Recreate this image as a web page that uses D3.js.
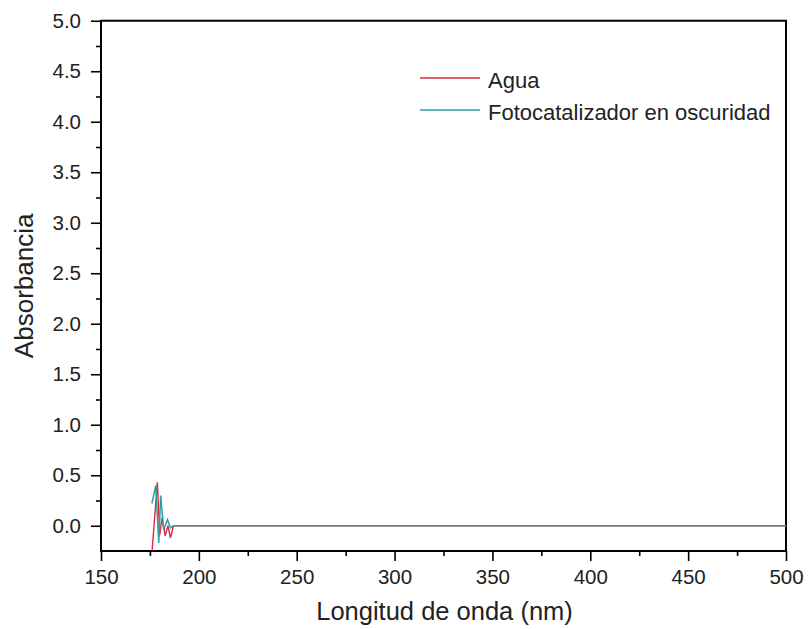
<!DOCTYPE html>
<html>
<head>
<meta charset="utf-8">
<script src="https://cdn.jsdelivr.net/npm/d3@7"></script>
<style>
  html, body { margin: 0; padding: 0; background: #fff; }
  svg { display: block; font-family: Arial, "Liberation Sans", sans-serif; }
</style>
</head>
<body>
<div id="chart"></div>
<script>
// Espectro UV-Vis: valores
const aguaNm  = [175.5, 178.8, 180.0, 181.2, 182.8, 184.2, 185.5, 187.0, 500];
const aguaAbs = [-0.40, 0.43, -0.09, 0.08, -0.10, 0.00, -0.12, 0.00, 0.00];

const fotoNm  = [176.0, 178.0, 179.5, 180.5, 182.0, 184.0, 185.5, 187.0, 500];
const fotoAbs = [0.22, 0.40, -0.17, 0.30, -0.04, 0.06, -0.02, 0.00, 0.00];

const xTicks = [150, 200, 250, 300, 350, 400, 450, 500];
const yTicks = [0.0, 0.5, 1.0, 1.5, 2.0, 2.5, 3.0, 3.5, 4.0, 4.5, 5.0];

const series = [
  { name: 'Agua', nm: aguaNm, abs: aguaAbs, color: '#dc2a40', width: 1.4 },
  { name: 'Fotocatalizador en oscuridad', nm: fotoNm, abs: fotoAbs, color: '#2f9ea2', width: 1.5 },
];

const W = 808, H = 629;
const m = { top: 20.74, right: 22, bottom: 78, left: 101 };
const iW = W - m.left - m.right;
const iH = 551 - m.top;

const svg = d3.select('#chart').append('svg').attr('width', W).attr('height', H);
const g = svg.append('g').attr('transform', `translate(${m.left},${m.top})`);

const x = d3.scaleLinear().domain([150, 500]).range([0, iW]);
const y = d3.scaleLinear().domain([-0.25, 5]).range([iH, 0]);

svg.append('defs').append('clipPath').attr('id', 'clip')
  .append('rect').attr('width', iW).attr('height', iH);

// minor ticks
const xMinor = d3.range(175, 500, 50);
const yMinor = d3.range(0.25, 5, 0.5);

g.append('g').attr('transform', `translate(0,${iH})`)
  .call(d3.axisBottom(x).tickValues(xTicks).tickSize(10).tickPadding(8).tickFormat(d3.format('d')));
g.append('g').attr('transform', `translate(0,${iH})`)
  .call(d3.axisBottom(x).tickValues(xMinor).tickSize(5).tickFormat(''));

g.append('g')
  .call(d3.axisLeft(y).tickValues(yTicks).tickSize(10).tickPadding(10).tickFormat(d3.format('.1f')));
g.append('g')
  .call(d3.axisLeft(y).tickValues(yMinor).tickSize(5).tickFormat(''));

g.selectAll('.domain').remove();
g.selectAll('.tick line').attr('stroke', '#000').attr('stroke-width', 1.6);
g.selectAll('.tick text').attr('font-size', 20.5).attr('fill', '#222')
  .attr('font-family', 'Arial, "Liberation Sans", sans-serif');

// frame
g.append('rect').attr('width', iW).attr('height', iH)
  .attr('fill', 'none').attr('stroke', '#000').attr('stroke-width', 2);

const line = d3.line().x(d => x(d[0])).y(d => y(d[1]));

const plot = g.append('g').attr('clip-path', 'url(#clip)');
series.forEach(s => {
  plot.append('path')
    .datum(s.nm.map((v, i) => [v, s.abs[i]]))
    .attr('d', line)
    .attr('fill', 'none').attr('stroke', s.color).attr('stroke-width', s.width);
});

// legend
const lg = svg.append('g').attr('transform', 'translate(420,78)');
series.forEach((s, i) => {
  const row = lg.append('g').attr('transform', `translate(0,${i * 32})`);
  row.append('line').attr('x1', 0).attr('x2', 60).attr('y1', 0).attr('y2', 0)
    .attr('stroke', s.color).attr('stroke-width', 1.4);
  row.append('text').attr('x', 68).attr('y', 2).attr('dy', '0.35em')
    .attr('font-size', 22).attr('fill', '#222').text(s.name);
});

// axis titles
svg.append('text')
  .attr('x', m.left + iW / 2 + 1).attr('y', 620)
  .attr('text-anchor', 'middle').attr('font-size', 25.5).attr('fill', '#222')
  .text('Longitud de onda (nm)');

svg.append('text')
  .attr('transform', `translate(33,${m.top + iH / 2}) rotate(-90)`)
  .attr('text-anchor', 'middle').attr('font-size', 26).attr('fill', '#222')
  .text('Absorbancia');
</script>
</body>
</html>
